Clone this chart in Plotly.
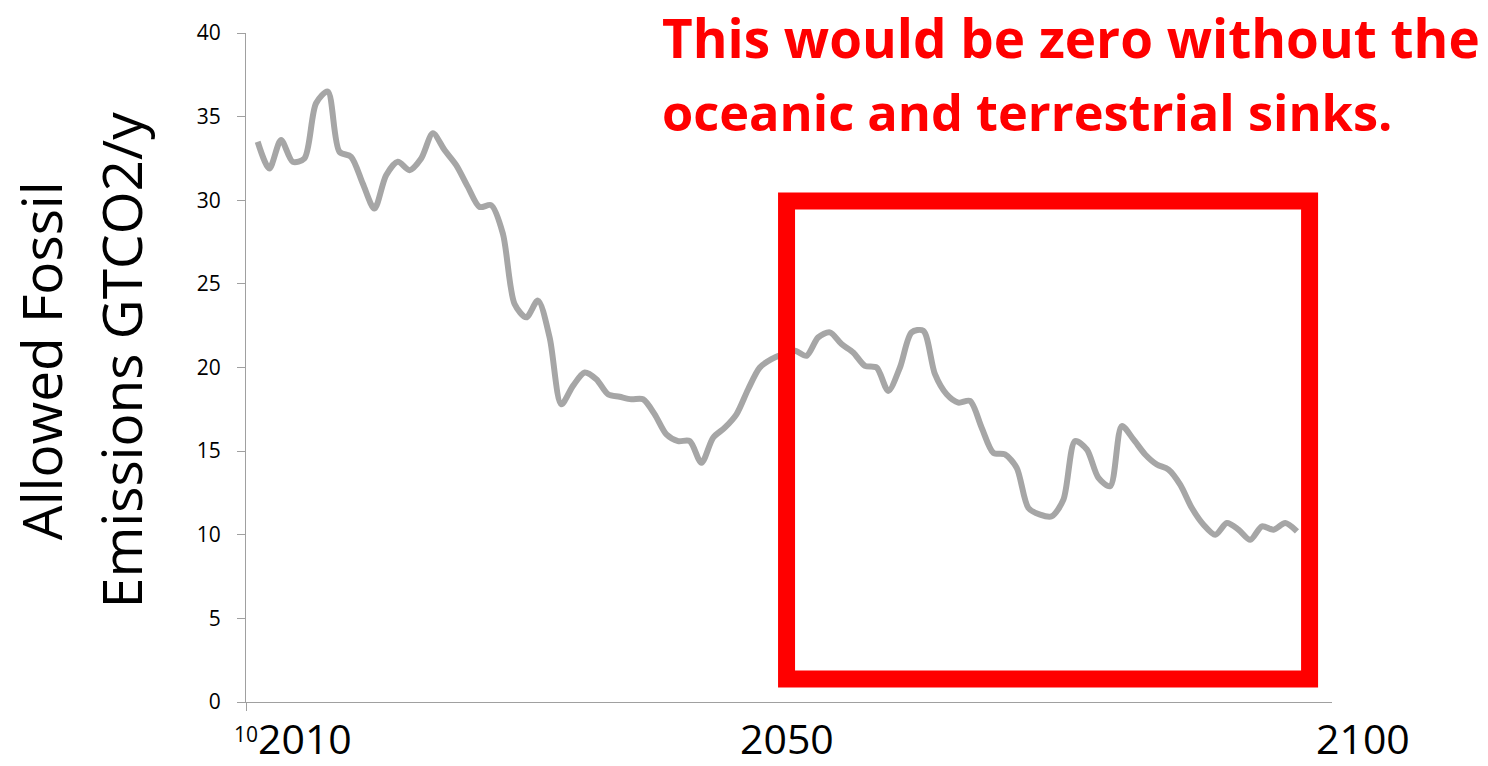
import plotly.graph_objects as go

years = list(range(2011, 2101))
emissions = [
    33.5, 31.9, 33.6, 32.3, 32.5, 35.8, 36.5, 32.9, 32.6, 31.0,
    29.5, 31.5, 32.3, 31.8, 32.5, 34.0, 33.0, 32.1, 30.8, 29.6,
    29.7, 28.0, 23.8, 23.0, 24.0, 21.8, 17.8, 18.9, 19.7, 19.3,
    18.4, 18.25, 18.1, 18.1, 17.2, 16.0, 15.6, 15.6, 14.3, 15.8,
    16.4, 17.2, 18.7, 20.0, 20.5, 20.8, 21.0, 20.7, 21.8, 22.1,
    21.4, 20.9, 20.1, 20.0, 18.6, 20.0, 22.1, 22.2, 19.6, 18.4,
    17.9, 18.0, 16.4, 14.9, 14.8, 14.0, 11.6, 11.2, 11.1, 12.1,
    15.6, 15.1, 13.4, 12.9, 16.5, 15.7, 14.8, 14.2, 13.9, 13.0,
    11.6, 10.6, 10.0, 10.7, 10.3, 9.7, 10.5, 10.3, 10.7, 10.2,
]

y_ticks = [0, 5, 10, 15, 20, 25, 30, 35, 40]
x_tick_vals = [2010]
x_tick_text = ["10"]
big_year_labels = ["2010", "2050", "2100"]
big_year_paper_x = [0.0543, 0.4982, 1.0285]

title_lines = ["This would be zero without the", "oceanic and terrestrial sinks."]
ytitle_lines = ["Allowed Fossil", "Emissions GTCO2/y"]

FONT = "Open Sans"
AXIS_GRAY = "#A0A0A0"

fig = go.Figure()
fig.add_trace(go.Scatter(
    x=years, y=emissions, mode="lines",
    line=dict(color="#A6A6A6", width=6, shape="spline", smoothing=0.8),
    hoverinfo="x+y", showlegend=False,
))

fig.update_layout(
    width=1488, height=766,
    margin=dict(l=246, r=156, t=33, b=64),
    paper_bgcolor="white", plot_bgcolor="white",
    font=dict(family=FONT, color="black"),
    xaxis=dict(
        range=[2010, 2103], showgrid=False, zeroline=False,
        showline=True, linecolor=AXIS_GRAY, linewidth=1,
        tickvals=x_tick_vals, ticktext=x_tick_text,
        ticks="outside", ticklen=8, tickcolor=AXIS_GRAY,
        tickfont=dict(size=21, family=FONT), ticklabelstandoff=6,
    ),
    yaxis=dict(
        range=[0, 40], showgrid=False, zeroline=False,
        showline=True, linecolor=AXIS_GRAY, linewidth=1,
        tickvals=y_ticks, ticks="outside", ticklen=8, tickcolor=AXIS_GRAY,
        tickfont=dict(size=21, family=FONT), ticklabelstandoff=12,
    ),
)

fig.add_shape(
    type="rect", xref="x", yref="y",
    x0=2056.29, x1=2101.08, y0=1.375, y1=29.95,
    line=dict(color="#FF0000", width=17), fillcolor="rgba(0,0,0,0)",
)

for lab, px in zip(big_year_labels, big_year_paper_x):
    fig.add_annotation(
        x=px, xref="paper", y=-0.0531, yref="paper",
        text=lab, showarrow=False, xanchor="center", yanchor="middle",
        font=dict(size=41, family=FONT, color="black"),
    )

for line, yp, fs in zip(title_lines, [0.994, 0.882], [53, 50.5]):
    fig.add_annotation(
        x=0.3812, xref="paper", y=yp, yref="paper",
        text="<b>" + line + "</b>", showarrow=False,
        xanchor="left", yanchor="middle",
        font=dict(size=fs, family=FONT, color="#FF0000"),
    )

for line, xp in zip(ytitle_lines, [-0.1897, -0.116]):
    fig.add_annotation(
        x=xp, xref="paper", y=0.511, yref="paper",
        text=line, showarrow=False, textangle=-90,
        xanchor="center", yanchor="middle",
        font=dict(size=55, family=FONT, color="black"),
    )

fig.write_html(
    "out.html",
    config={"displayModeBar": False},
    post_script="document.body.style.margin='0px';document.body.style.overflow='hidden';",
)
